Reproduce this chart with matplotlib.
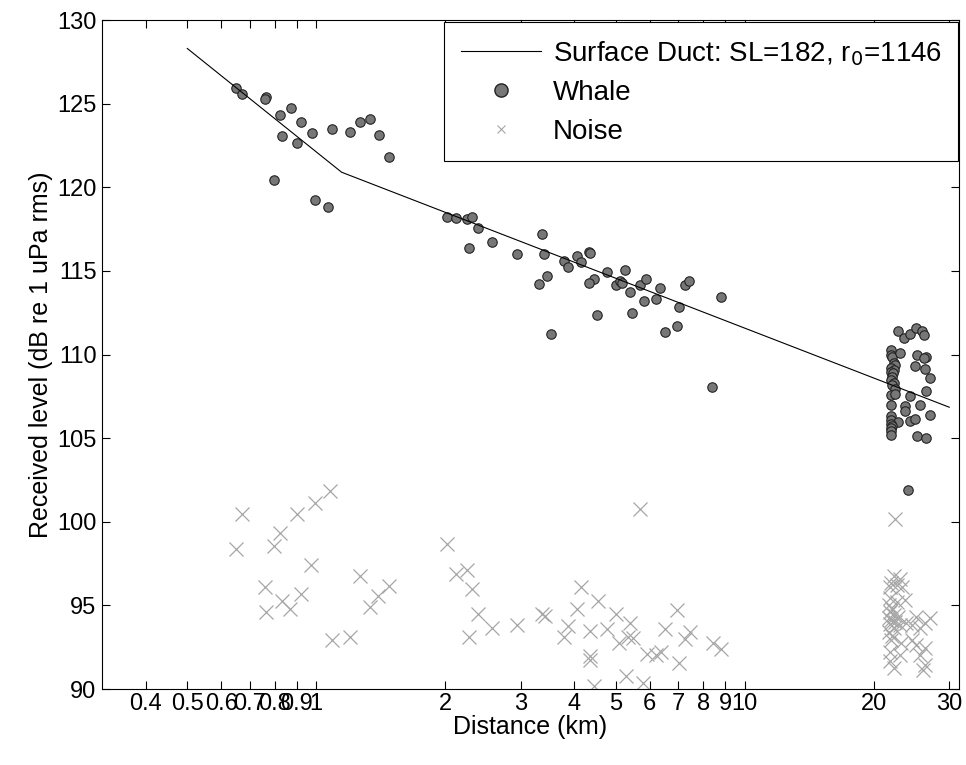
import numpy as np
import matplotlib
matplotlib.use('Agg')
import matplotlib.pyplot as plt
from matplotlib.lines import Line2D

plt.rcParams['font.family'] = ['Liberation Sans', 'DejaVu Sans']

# model curve (start, kink at r0, end)
duct_km = [0.5, 1.146, 30.0]
duct_db = [128.3, 120.9, 106.85]

# whale calls
whale_km = [0.650, 0.670, 0.764, 0.759, 0.824, 0.871, 0.919, 0.830, 0.902, 0.977,
            1.09, 1.198, 1.264, 1.336, 1.40, 1.476, 0.797, 0.991, 1.066,
            2.017, 2.116, 2.245, 2.314, 2.389, 2.277, 2.577, 2.946, 3.357, 3.401,
            3.450, 3.310, 3.524, 3.785, 3.875, 4.058, 4.14, 4.335, 4.35, 4.437,
            4.335, 4.518, 4.776, 5.005, 5.112, 5.17, 5.25, 5.395, 5.46, 5.70,
            5.886, 5.815, 6.215, 6.35, 6.52, 6.93, 7.03, 7.26, 7.42, 8.38, 8.79,
            21.97, 21.89, 22.01, 22.98, 22.29, 22.45, 21.97, 22.25, 21.89, 22.17,
            22.01, 21.89, 22.29, 22.01, 22.45, 21.97, 22.41, 21.97, 21.97, 21.89,
            22.78, 21.89, 22.09, 21.93, 21.97, 21.89,
            22.82, 23.48, 24.24, 25.13, 25.95, 26.23, 25.22, 26.42, 26.18, 24.95,
            26.32, 26.99, 26.42, 24.29, 23.64, 25.63, 23.68, 27.09, 24.24, 24.91,
            25.26, 26.51, 24.0]
whale_db = [125.93, 125.58, 125.41, 125.30, 124.34, 124.74, 123.90, 123.08, 122.63, 123.22,
            123.46, 123.30, 123.92, 124.06, 123.14, 121.79, 120.43, 119.22, 118.84,
            118.24, 118.18, 118.08, 118.24, 117.56, 116.35, 116.73, 115.99, 117.19, 115.99,
            114.69, 114.23, 111.23, 115.61, 115.21, 115.89, 115.51, 116.11, 116.05, 114.53,
            114.29, 112.34, 114.93, 114.16, 114.38, 114.26, 115.05, 113.72, 112.50, 114.16,
            114.53, 113.18, 113.34, 114.00, 111.37, 111.69, 112.82, 114.16, 114.39, 108.04, 113.42,
            110.27, 109.97, 109.83, 110.11, 109.51, 109.37, 109.17, 109.07, 108.97, 108.87,
            108.68, 108.48, 108.32, 108.18, 107.92, 107.58, 107.62, 106.98, 106.32, 106.09,
            105.99, 105.85, 105.73, 105.59, 105.43, 105.19,
            111.43, 111.01, 111.21, 111.61, 111.41, 111.17, 109.97, 109.87, 109.77, 109.33,
            109.11, 108.58, 107.84, 107.52, 106.92, 106.98, 106.60, 106.38, 106.05, 106.13,
            105.13, 104.99, 101.9]

# noise samples
noise_km = [0.670, 0.650, 0.795, 0.824, 0.901, 0.995, 1.074, 0.973, 0.758, 1.266,
            0.832, 0.923, 0.765, 0.870, 1.397, 1.482, 1.336, 1.091, 1.196,
            2.02, 5.69, 2.12, 2.245, 2.306, 2.39, 2.278, 2.577, 2.946, 3.37, 3.42,
            4.14, 4.05, 4.535, 3.875, 3.785, 4.352, 4.352, 4.352, 4.44, 4.76,
            5.005, 5.095, 5.395, 5.33, 5.49, 5.27, 5.79, 5.90, 6.22, 6.36,
            6.53, 6.93, 7.03, 7.27, 7.44, 8.41, 8.79,
            22.45, 22.25, 22.98, 21.95, 22.6, 23.32, 21.78, 21.85, 23.6, 22.6,
            21.72, 21.78, 22.25, 21.7, 21.95, 22.4, 21.78, 22.8, 22.98, 22.25,
            21.7, 23.8, 25.1, 27.0, 26.3, 24.5, 25.6, 21.95, 23.1, 24.5,
            25.1, 26.3, 21.78, 22.98, 25.6, 26.3, 22.25, 26.1, 21.8, 22.0, 22.1]
noise_db = [100.44, 98.35, 98.55, 99.31, 100.44, 101.10, 101.84, 97.39, 96.12, 96.77,
            95.28, 95.66, 94.58, 94.76, 95.58, 96.18, 94.88, 92.93, 93.09,
            98.67, 100.76, 96.87, 97.11, 95.96, 94.46, 93.09, 93.63, 93.83, 94.46, 94.36,
            96.12, 94.76, 95.28, 93.77, 93.09, 93.47, 91.97, 91.73, 90.18, 93.57,
            94.46, 92.77, 93.93, 93.09, 93.03, 90.78, 90.38, 92.09, 92.03, 92.23,
            93.57, 94.72, 91.57, 92.97, 93.43, 92.73, 92.37,
            100.16, 96.76, 96.60, 96.36, 96.22, 96.08, 96.08, 95.42, 95.32, 95.22,
            95.02, 94.62, 94.42, 94.22, 94.12, 94.03, 93.89, 94.32, 93.83, 93.63,
            93.43, 93.93, 94.32, 94.22, 93.93, 93.83, 93.63, 92.93, 92.73, 92.93,
            92.63, 92.43, 92.23, 92.03, 92.03, 91.43, 91.24, 91.14, 91.7, 93.2, 94.8]

xtick_vals = [0.4, 0.5, 0.6, 0.7, 0.8, 0.9, 1, 2, 3, 4, 5, 6, 7, 8, 9, 10, 20, 30]
xtick_labels = ['0.4', '0.5', '0.6', '0.7', '0.8', '0.9', '1', '2', '3', '4',
                '5', '6', '7', '8', '9', '10', '20', '30']

fig = plt.figure(figsize=(9.66, 7.65), dpi=100)
ax = fig.add_axes([0.1056, 0.0993, 0.8872, 0.8745])

ax.plot(noise_km, noise_db, linestyle='none', marker='x', color='#a6a6a6',
        markersize=10, markeredgewidth=0.9)
ax.plot(whale_km, whale_db, linestyle='none', marker='o', markerfacecolor='#777777',
        markeredgecolor='#222222', markersize=6.8, markeredgewidth=0.8)
ax.plot(duct_km, duct_db, color='black', linewidth=0.8)

ax.set_xscale('log')
ax.set_xlim(10 ** -0.5, 10 ** 1.5)
ax.set_ylim(90, 130)
ax.set_xticks(xtick_vals)
ax.set_xticklabels(xtick_labels)
ax.xaxis.set_minor_locator(matplotlib.ticker.NullLocator())
ax.set_yticks(np.arange(90, 131, 5))
ax.tick_params(direction='in', top=True, right=True, length=6, width=0.8,
               labelsize=17)
ax.tick_params(axis='x', pad=3)
ax.tick_params(axis='y', pad=4)
for s in ax.spines.values():
    s.set_linewidth(0.8)

ax.set_xlabel('Distance (km)', fontsize=18, labelpad=0)
ax.set_ylabel('Received level (dB re 1 uPa rms)', fontsize=18, labelpad=3)

handles = [
    Line2D([], [], color='black', linewidth=0.8),
    Line2D([], [], linestyle='none', marker='o', markerfacecolor='#777777',
           markeredgecolor='#222222', markersize=9.5),
    Line2D([], [], linestyle='none', marker='x', color='#a6a6a6',
           markersize=6, markeredgewidth=0.8),
]
labels = ['Surface Duct: SL=182, r$_0$=1146', 'Whale', 'Noise']
leg = ax.legend(handles, labels, loc='upper right', bbox_to_anchor=(0.999, 0.997),
                borderaxespad=0, fontsize=20, handlelength=2.9, handletextpad=0.4,
                fancybox=False, edgecolor='black', framealpha=1,
                borderpad=0.6, labelspacing=0.45)
leg.get_frame().set_linewidth(0.8)

fig.savefig('out.png', dpi=100)
